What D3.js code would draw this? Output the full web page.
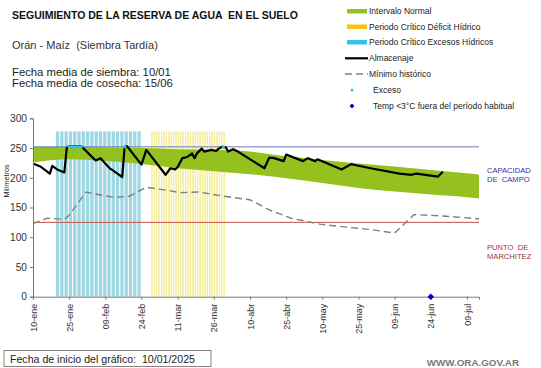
<!DOCTYPE html>
<html lang="es">
<head>
<meta charset="UTF-8">
<title>Seguimiento de la reserva de agua en el suelo</title>
<script src="https://cdnjs.cloudflare.com/ajax/libs/d3/7.8.5/d3.min.js"></script>
<style>
  html, body { margin: 0; padding: 0; background: #fff; }
  svg { display: block; font-family: "Liberation Sans", Arial, sans-serif; }
</style>
</head>
<body>
<div id="chart"></div>
<script>
// --- data (days counted from 10-ene-2025) ---
const startDate = new Date(2025, 0, 10);
const tickDays = [0, 15, 30, 45, 60, 75, 90, 105, 120, 135, 150, 165, 180];
const tickLabels = ["10-ene", "25-ene", "09-feb", "24-feb", "11-mar", "26-mar", "10-abr",
                    "25-abr", "10-may", "25-may", "09-jun", "24-jun", "09-jul"];
const yTicks = [0, 50, 100, 150, 200, 250, 300];

const capacidadCampo = 252;
const puntoMarchitez = 125;

// Intervalo normal (banda verde)
const bandDays  = [0, 15, 30, 45, 60, 75, 90, 105, 120, 135, 150, 165, 181, 185];
const bandUpper = [252, 252, 251, 250, 248, 247, 244, 236, 230, 224, 219, 213, 207, 205];
const bandLower = [226, 231, 228, 223, 216, 211, 206, 199, 191, 183, 177, 172, 167, 165];

// Almacenaje
const almDays = [0, 3, 7, 8, 10, 13, 14, 15, 20, 23, 26, 28, 32, 33, 37, 38, 39, 45, 47,
                 55, 57, 59, 60, 62, 64, 66, 67, 68, 70, 71, 74, 76, 77, 78.5, 80, 81, 83, 85,
                 96, 98, 100, 104, 105, 112, 114, 117, 118, 128, 132, 134, 140, 152, 157, 159, 168, 170];
const almValues = [224, 219, 207, 220, 214, 209, 250, 253, 253, 241, 229, 233, 215, 213, 201, 252, 253, 222, 247,
                   205, 216, 214, 218, 233, 235, 241, 233, 241, 249, 244, 247, 245, 249, 252, 251, 244, 248, 244,
                   216, 234, 233, 228, 239, 228, 233, 228, 231, 214, 223, 221, 216, 207, 205, 207, 202, 210];

// Mínimo histórico
const minDays   = [0, 6, 13, 15, 22, 28, 34, 40, 47, 57, 61, 69, 79, 90, 98, 107, 119, 130, 140, 150, 158, 169, 185];
const minValues = [123, 132, 130, 137, 176, 171, 167, 169, 184, 178, 175, 176, 169, 163, 146, 132, 122, 117, 113, 107, 138, 136, 131];

// Periodos críticos
const excesoPeriod  = [9.5, 45.1];   // Periodo Crítico Excesos Hídricos
const deficitPeriod = [49, 79.5];    // Periodo Crítico Déficit Hídrico
const periodTop = 278;

// Exceso y helada
const excesoDays = [15, 16, 17, 18, 19, 20, 38, 79];
const heladaDays = [165];

// --- layout ---
const W = 541, H = 368;
const dayToDate = d => new Date(startDate.getTime() + d * 864e5);

const x = d3.scaleTime()
  .domain([dayToDate(0), dayToDate(185)])
  .range([33, 479]);
const y = d3.scaleLinear().domain([0, 300]).range([296.7, 118.3]);
const xd = d => x(dayToDate(d));

const svg = d3.select("#chart").append("svg")
  .attr("width", W).attr("height", H);

// title and header texts
svg.append("text").attr("x", 12).attr("y", 19)
  .attr("font-size", 10.5).attr("font-weight", "bold").attr("fill", "#111")
  .style("white-space", "pre")
  .text("SEGUIMIENTO DE LA RESERVA DE AGUA  EN EL SUELO");
svg.append("text").attr("x", 12).attr("y", 49)
  .attr("font-size", 11).attr("fill", "#333").style("white-space", "pre")
  .text("Orán - Maíz  (Siembra Tardía)");
svg.append("text").attr("x", 12).attr("y", 76)
  .attr("font-size", 11.3).attr("fill", "#222")
  .text("Fecha media de siembra: 10/01");
svg.append("text").attr("x", 12).attr("y", 87)
  .attr("font-size", 11.3).attr("fill", "#222")
  .text("Fecha media de cosecha: 15/06");

// critical period stripes
const blueStep = (excesoPeriod[1] - excesoPeriod[0]) / 20;
const blueStripes = d3.range(20).map(i => excesoPeriod[0] + i * blueStep);
svg.append("g").selectAll("rect").data(blueStripes).join("rect")
  .attr("x", d => xd(d))
  .attr("width", d => xd(d + blueStep) - xd(d) - 1)
  .attr("y", y(periodTop)).attr("height", y(0) - y(periodTop))
  .attr("fill", "#9fd8e3");

const yellowStripes = d3.range(deficitPeriod[0], deficitPeriod[1], 1);
svg.append("g").selectAll("rect").data(yellowStripes).join("rect")
  .attr("x", d => xd(d))
  .attr("width", d => xd(d + 1) - xd(d) - 0.9)
  .attr("y", y(periodTop)).attr("height", y(0) - y(periodTop))
  .attr("fill", "#f4ee9e");

// green band
const band = bandDays.map((d, i) => ({d, hi: bandUpper[i], lo: bandLower[i]}));
svg.append("path").datum(band)
  .attr("fill", "#95c11f")
  .attr("d", d3.area().curve(d3.curveMonotoneX)
    .x(p => xd(p.d)).y0(p => y(p.lo)).y1(p => y(p.hi)));

// reference lines
svg.append("line").attr("x1", 33).attr("x2", 479)
  .attr("y1", y(capacidadCampo)).attr("y2", y(capacidadCampo))
  .attr("stroke", "#6a7bbf").attr("stroke-width", 1);
svg.append("line").attr("x1", 33).attr("x2", 479)
  .attr("y1", y(puntoMarchitez)).attr("y2", y(puntoMarchitez))
  .attr("stroke", "#c8504a").attr("stroke-width", 1);

// mínimo histórico
svg.append("path").datum(minDays.map((d, i) => [d, minValues[i]]))
  .attr("fill", "none").attr("stroke", "#7f7f7f").attr("stroke-width", 1.4)
  .attr("stroke-dasharray", "7,4")
  .attr("d", d3.line().x(p => xd(p[0])).y(p => y(p[1])));

// almacenaje
svg.append("path").datum(almDays.map((d, i) => [d, almValues[i]]))
  .attr("fill", "none").attr("stroke", "#000").attr("stroke-width", 2.2)
  .attr("stroke-linejoin", "round")
  .attr("d", d3.line().x(p => xd(p[0])).y(p => y(p[1])));

// exceso markers
svg.append("g").selectAll("circle").data(excesoDays).join("circle")
  .attr("cx", d => xd(d)).attr("cy", y(capacidadCampo))
  .attr("r", 1.7).attr("fill", "#2ec4ee");

// axes
const yAxis = svg.append("g").attr("transform", "translate(33,0)")
  .call(d3.axisLeft(y).tickValues(yTicks).tickSize(3).tickPadding(3));
const xAxis = svg.append("g").attr("transform", `translate(0,${y(0)})`)
  .call(d3.axisBottom(x).tickValues(tickDays.map(dayToDate)).tickSize(3)
    .tickFormat((d, i) => tickLabels[i]));
[yAxis, xAxis].forEach(a => {
  a.select(".domain").attr("stroke", "#777");
  a.selectAll(".tick line").attr("stroke", "#777");
});
yAxis.selectAll("text").attr("font-size", 10.2).attr("fill", "#333")
  .attr("font-family", "Liberation Sans, Arial, sans-serif");
xAxis.selectAll("text")
  .attr("font-size", 9).attr("fill", "#333")
  .attr("font-family", "Liberation Sans, Arial, sans-serif")
  .attr("text-anchor", "end")
  .attr("transform", "rotate(-90)")
  .attr("x", -7).attr("y", 0).attr("dy", "0.35em");

svg.append("text")
  .attr("transform", "translate(9,181) rotate(-90)")
  .attr("text-anchor", "middle").attr("font-size", 7.2).attr("fill", "#222")
  .text("Milímetros");

// helada marker (rombo)
svg.append("g").selectAll("path").data(heladaDays).join("path")
  .attr("transform", d => `translate(${xd(d)},${y(0)}) rotate(45)`)
  .attr("d", d3.symbol(d3.symbolSquare, 22))
  .attr("fill", "#0000cc");

// right labels
const rlab = [
  {t: "CAPACIDAD", y: 173, c: "#333399"}, {t: "DE  CAMPO", y: 182, c: "#333399"},
  {t: "PUNTO  DE", y: 250, c: "#a33333"}, {t: "MARCHITEZ", y: 258.5, c: "#a33333"}
];
svg.append("g").selectAll("text").data(rlab).join("text")
  .attr("x", 487).attr("y", d => d.y).attr("font-size", 7.6)
  .attr("fill", d => d.c).style("white-space", "pre").text(d => d.t);

// legend
const lx = 347, tx = 369;
const legend = svg.append("g").attr("font-size", 8.5).attr("fill", "#222");
legend.append("rect").attr("x", lx).attr("y", 9).attr("width", 20).attr("height", 4.5).attr("fill", "#95c11f");
legend.append("rect").attr("x", lx).attr("y", 24.5).attr("width", 20).attr("height", 4.5).attr("fill", "#ffc20e");
legend.append("rect").attr("x", lx).attr("y", 40).attr("width", 20).attr("height", 4.5).attr("fill", "#33c3ea");
legend.append("line").attr("x1", lx - 2).attr("x2", lx + 21).attr("y1", 58.3).attr("y2", 58.3)
  .attr("stroke", "#000").attr("stroke-width", 2.2);
legend.append("line").attr("x1", lx - 2).attr("x2", lx + 21).attr("y1", 74).attr("y2", 74)
  .attr("stroke", "#808080").attr("stroke-width", 1.4).attr("stroke-dasharray", "7,4");
legend.append("circle").attr("cx", lx + 5).attr("cy", 90).attr("r", 1.5).attr("fill", "#2ec4ee");
legend.append("path").attr("transform", `translate(${lx + 5},106) rotate(45)`)
  .attr("d", d3.symbol(d3.symbolSquare, 12)).attr("fill", "#0000cc");
const legTexts = [
  {t: "Intervalo Normal", y: 11}, {t: "Periodo Crítico Déficit Hídrico", y: 26.7},
  {t: "Periodo Crítico Excesos Hídricos", y: 42.3}, {t: "Almacenaje", y: 58.3},
  {t: "Mínimo histórico", y: 74}, {t: "Exceso", y: 90, x: 373},
  {t: "Temp <3°C fuera del período habitual", y: 106, x: 373}
];
legend.selectAll("text").data(legTexts).join("text")
  .attr("x", d => d.x || tx).attr("y", d => d.y).attr("dy", "0.35em").text(d => d.t);

// footer
svg.append("rect").attr("x", 4).attr("y", 350.5).attr("width", 207).attr("height", 16)
  .attr("fill", "none").attr("stroke", "#8c8083").attr("stroke-width", 1);
svg.append("text").attr("x", 10).attr("y", 362.5).attr("font-size", 10.6).attr("fill", "#222")
  .style("white-space", "pre").text("Fecha de inicio del gráfico:  10/01/2025");
svg.append("text").attr("x", 519).attr("y", 366).attr("text-anchor", "end")
  .attr("font-size", 9.8).attr("font-weight", "bold").attr("fill", "#7a7a7a")
  .text("WWW.ORA.GOV.AR");
</script>
</body>
</html>
